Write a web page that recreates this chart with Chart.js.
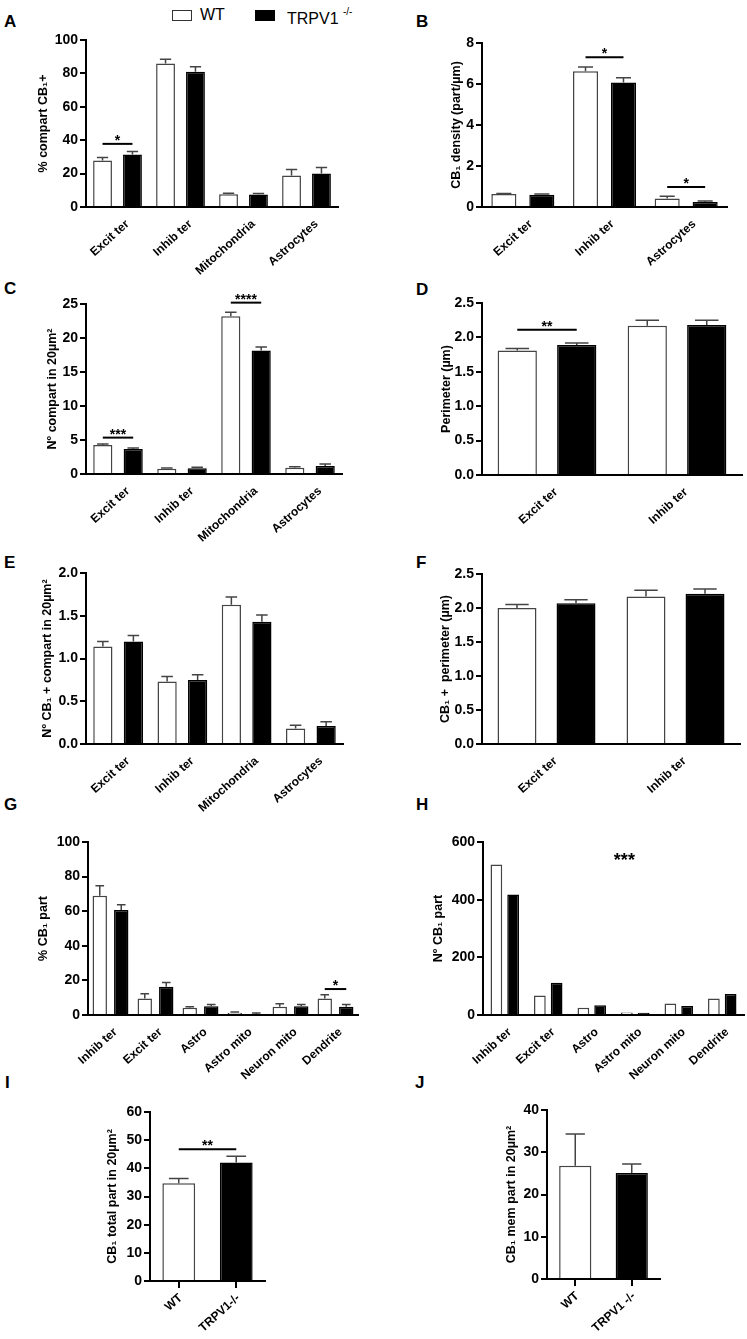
<!DOCTYPE html>
<html>
<head>
<meta charset="utf-8">
<script src="https://cdn.jsdelivr.net/npm/chart.js@4.4.1/dist/chart.umd.min.js"></script>
<style>
  body { margin: 0; background: #fff; width: 747px; height: 1339px; position: relative; overflow: hidden;
         font-family: 'Liberation Sans', Arial, sans-serif; }
  canvas { position: absolute; }
  .letter { position: absolute; font-weight: bold; font-size: 17px; line-height: 18px; }
  .box { position: absolute; width: 18px; height: 9px; border: 1.5px solid #333; }
  .leg { position: absolute; font-size: 16px; line-height: 18px; }
</style>
</head>
<body>

<div class="box" style="left:172px; top:10px; background:#fff;"></div>
<div class="leg" style="left:200px; top:6px;">WT</div>
<div class="box" style="left:255px; top:10px; background:#000; border-color:#000;"></div>
<div class="leg" style="left:287px; top:6px;">TRPV1 <sup style="font-size:10px; position:relative; top:-3px;">-/-</sup></div>

<div class="letter" style="left:4px; top:13px;">A</div>
<div class="letter" style="left:416px; top:13px;">B</div>
<div class="letter" style="left:4px; top:280px;">C</div>
<div class="letter" style="left:416px; top:281px;">D</div>
<div class="letter" style="left:4px; top:554px;">E</div>
<div class="letter" style="left:416px; top:554px;">F</div>
<div class="letter" style="left:4px; top:796px;">G</div>
<div class="letter" style="left:416px; top:796px;">H</div>
<div class="letter" style="left:5px; top:1074px;">I</div>
<div class="letter" style="left:415px; top:1074px;">J</div>

<canvas id="cA"></canvas><canvas id="cB"></canvas>
<canvas id="cC"></canvas><canvas id="cD"></canvas>
<canvas id="cE"></canvas><canvas id="cF"></canvas>
<canvas id="cG"></canvas><canvas id="cH"></canvas>
<canvas id="cI"></canvas><canvas id="cJ"></canvas>

<script>
// categories
var cats4 = ["Excit ter", "Inhib ter", "Mitochondria", "Astrocytes"];
var cats3 = ["Excit ter", "Inhib ter", "Astrocytes"];
var cats2 = ["Excit ter", "Inhib ter"];
var cats6 = ["Inhib ter", "Excit ter", "Astro", "Astro mito", "Neuron mito", "Dendrite"];
var catsI = ["WT", "TRPV1-/-"];
var catsJ = ["WT", "TRPV1 -/-"];

// A: % compart CB1+
var wtA = [27.9, 86.0, 7.6, 18.9];
var wtErrA = [1.8, 2.4, 0.6, 3.6];
var koA = [31.5, 81.0, 7.5, 20.1];
var koErrA = [1.8, 3.0, 0.6, 3.6];

// B: CB1 density
var wtB = [0.63, 6.62, 0.41];
var wtErrB = [0.03, 0.21, 0.11];
var koB = [0.60, 6.07, 0.24];
var koErrB = [0.03, 0.23, 0.05];

// C: N compart in 20um2
var wtC = [4.27, 0.79, 23.2, 0.93];
var wtErrC = [0.13, 0.09, 0.6, 0.15];
var koC = [3.68, 0.83, 18.17, 1.18];
var koErrC = [0.15, 0.15, 0.5, 0.29];

// D: perimeter
var wtD = [1.81, 2.17];
var wtErrD = [0.03, 0.08];
var koD = [1.89, 2.18];
var koErrD = [0.03, 0.07];

// E: N CB1+ compart
var wtE = [1.14, 0.73, 1.63, 0.18];
var wtErrE = [0.06, 0.06, 0.09, 0.04];
var koE = [1.20, 0.75, 1.43, 0.21];
var koErrE = [0.07, 0.06, 0.08, 0.05];

// F: CB1+ perimeter
var wtF = [2.00, 2.17];
var wtErrF = [0.05, 0.09];
var koF = [2.07, 2.21];
var koErrF = [0.05, 0.07];

// G: % CB1 part
var wtG = [68.9, 9.6, 4.2, 1.3, 4.8, 9.6];
var wtErrG = [5.8, 2.7, 0.6, 0.4, 1.7, 2.1];
var koG = [60.7, 16.3, 5.0, 0.6, 5.0, 4.8];
var koErrG = [3.0, 2.5, 1.0, 0.6, 1.0, 1.3];

// H: N CB1 part (no error bars)
var wtH = [522, 68, 25, 9, 40, 57];
var koH = [418, 112, 34, 8, 31, 73];

// I, J: single bars per genotype
var valsI = [34.7, 42.1];
var errI = [1.7, 2.2];
var valsJ = [26.8, 25.1];
var errJ = [7.5, 2.1];

// y ticks: min, max, step
var ticksA = [0, 100, 20];
var ticksB = [0, 8, 2];
var ticksC = [0, 25, 5];
var ticksD = [0, 2.5, 0.5];
var ticksE = [0, 2.0, 0.5];
var ticksF = [0, 2.5, 0.5];
var ticksG = [0, 100, 20];
var ticksH = [0, 600, 200];
var ticksI = [0, 60, 10];
var ticksJ = [0, 40, 10];

Chart.defaults.font.family = "'Liberation Sans', Arial, sans-serif";
Chart.defaults.color = "#000";

// error bars + significance marks, positioned through the scales
var marks = {
  id: "marks",
  afterDatasetsDraw: function (chart, args, o) {
    var ctx = chart.ctx, ys = chart.scales.y, xs = chart.scales.x;
    ctx.save();
    chart.data.datasets.forEach(function (ds, di) {
      if (!ds.errors) return;
      chart.getDatasetMeta(di).data.forEach(function (bar, i) {
        var top = ys.getPixelForValue(ds.data[i] + ds.errors[i]);
        var base = ys.getPixelForValue(ds.data[i]);
        var cw = bar.width * 0.3;
        ctx.strokeStyle = "#444";
        ctx.lineWidth = 1.5;
        ctx.beginPath();
        ctx.moveTo(bar.x, base); ctx.lineTo(bar.x, top);
        ctx.moveTo(bar.x - cw, top); ctx.lineTo(bar.x + cw, top);
        ctx.stroke();
      });
    });
    (o.sig || []).forEach(function (s) {
      var y = ys.getPixelForValue(s.value), x1, x2;
      if (s.pos != null) {
        x1 = x2 = xs.getPixelForValue(s.pos);
      } else if (s.cat != null) {
        x1 = chart.getDatasetMeta(0).data[s.cat].x;
        x2 = chart.getDatasetMeta(1).data[s.cat].x;
      } else {
        x1 = chart.getDatasetMeta(0).data[0].x;
        x2 = chart.getDatasetMeta(0).data[1].x;
      }
      if (s.pos == null) {
        ctx.strokeStyle = "#000";
        ctx.lineWidth = 2;
        ctx.beginPath(); ctx.moveTo(x1, y); ctx.lineTo(x2, y); ctx.stroke();
      }
      ctx.fillStyle = "#000";
      ctx.font = s.font || "bold 14px 'Liberation Sans', Arial";
      ctx.textAlign = "center";
      ctx.textBaseline = "alphabetic";
      ctx.fillText(s.label, (x1 + x2) / 2, y + (s.dy || 1));
    });
    ctx.restore();
  }
};

function makePanel(id, box, labels, datasets, yt, title, sig, xTicks, decimals) {
  var padT = 26, padR = 8;
  var cv = document.getElementById(id);
  var w = box.r - box.x + box.yw + padR;
  var h = padT + (box.zero - box.top) + box.xh;
  cv.width = w; cv.height = h;
  cv.style.left = (box.x - box.yw) + "px";
  cv.style.top = (box.top - padT) + "px";
  new Chart(cv, {
    type: "bar",
    data: { labels: labels, datasets: datasets },
    options: {
      responsive: false,
      animation: false,
      layout: { padding: { top: padT, right: padR, left: 0, bottom: 0 } },
      plugins: { legend: { display: false }, tooltip: { enabled: false }, marks: { sig: sig } },
      scales: {
        x: {
          grid: { display: !!xTicks, drawOnChartArea: false, offset: false, color: "#000", lineWidth: 2, tickLength: 7 },
          border: { color: "#000", width: 2 },
          ticks: { autoSkip: false, minRotation: 42, maxRotation: 42, padding: 3, labelOffset: box.lo,
                   font: { size: 12, weight: "bold" } },
          afterFit: function (s) { s.height = box.xh; s.paddingLeft = 0; s.paddingRight = 0; }
        },
        y: {
          min: yt[0], max: yt[1],
          grid: { drawOnChartArea: false, color: "#000", lineWidth: 2, tickLength: 6 },
          border: { color: "#000", width: 2 },
          ticks: { stepSize: yt[2], padding: 2, font: { size: 14, weight: "bold" },
                   callback: function (v) { return decimals ? Number(v).toFixed(1) : v; } },
          title: { display: true, text: title, padding: 0, font: { size: 12.5, weight: "bold" } },
          afterFit: function (s) { s.width = box.yw; s.paddingTop = 0; s.paddingBottom = 0; }
        }
      }
    },
    plugins: [marks]
  });
}

function pair(wt, wtErr, ko, koErr, cp, bp) {
  return [
    { label: "WT", data: wt, errors: wtErr, backgroundColor: "#fff", borderColor: "#444",
      borderWidth: 1.5, categoryPercentage: cp, barPercentage: bp },
    { label: "TRPV1 -/-", data: ko, errors: koErr, backgroundColor: "#000", borderColor: "#000",
      borderWidth: 1.5, categoryPercentage: cp, barPercentage: bp }
  ];
}

function single(vals, err) {
  return [{ data: vals, errors: err, backgroundColor: ["#fff", "#000"], borderColor: ["#444", "#000"],
            borderWidth: 1.5, categoryPercentage: 1, barPercentage: 0.57 }];
}

makePanel("cA", { x: 86, r: 338, top: 40, zero: 207, yw: 50, xh: 95, lo: 10 }, cats4,
  pair(wtA, wtErrA, koA, koErrA, 0.95, 0.63), ticksA, "% compart CB\u2081+",
  [{ cat: 0, value: 37.8, label: "*" }]);

makePanel("cB", { x: 482, r: 727, top: 43, zero: 207, yw: 33, xh: 95, lo: 8 }, cats3,
  pair(wtB, wtErrB, koB, koErrB, 0.93, 0.66), ticksB, "CB\u2081 density (part/\u00b5m)",
  [{ cat: 1, value: 7.3, label: "*" }, { cat: 2, value: 0.98, label: "*" }]);

makePanel("cC", { x: 86, r: 342, top: 304, zero: 474, yw: 41, xh: 95, lo: 10 }, cats4,
  pair(wtC, wtErrC, koC, koErrC, 0.95, 0.63), ticksC, "N\u00ba compart in 20\u00b5m\u00b2",
  [{ cat: 0, value: 5.35, label: "***" }, { cat: 2, value: 25.2, label: "****" }]);

makePanel("cD", { x: 482, r: 742, top: 303, zero: 475, yw: 43, xh: 90, lo: 9 }, cats2,
  pair(wtD, wtErrD, koD, koErrD, 0.915, 0.66), ticksD, "Perimeter (\u00b5m)",
  [{ cat: 0, value: 2.11, label: "**" }], false, true);

makePanel("cE", { x: 86, r: 343, top: 573, zero: 744, yw: 46, xh: 95, lo: 10 }, cats4,
  pair(wtE, wtErrE, koE, koErrE, 0.95, 0.63), ticksE, "N\u00ba CB\u2081 + compart in 20\u00b5m\u00b2",
  [], false, true);

makePanel("cF", { x: 482, r: 740, top: 574, zero: 744, yw: 44, xh: 90, lo: 9 }, cats2,
  pair(wtF, wtErrF, koF, koErrF, 0.915, 0.66), ticksF, "CB\u2081 +  perimeter (\u00b5m)",
  [], false, true);

makePanel("cG", { x: 88, r: 358, top: 842, zero: 1015, yw: 52, xh: 95, lo: 5 }, cats6,
  pair(wtG, wtErrG, koG, koErrG, 0.955, 0.67), ticksG, "% CB\u2081 part",
  [{ cat: 5, value: 15, label: "*" }]);

makePanel("cH", { x: 483, r: 744, top: 842, zero: 1015, yw: 52, xh: 95, lo: 5 }, cats6,
  pair(wtH, null, koH, null, 0.77, 0.7), ticksH, "N\u00ba CB\u2081 part",
  [{ pos: 2.75, value: 553, label: "***", font: "bold 18px 'Liberation Sans', Arial", dy: 10 }]);

makePanel("cI", { x: 150, r: 265, top: 1112, zero: 1281, yw: 45, xh: 58, lo: 2 }, catsI,
  single(valsI, errI), ticksI, "CB\u2081 total part in 20\u00b5m\u00b2",
  [{ value: 46.8, label: "**" }], true);

makePanel("cJ", { x: 547, r: 660, top: 1110, zero: 1279, yw: 43, xh: 58, lo: 2 }, catsJ,
  single(valsJ, errJ), ticksJ, "CB\u2081 mem part in 20\u00b5m\u00b2",
  [], true);
</script>
</body>
</html>
